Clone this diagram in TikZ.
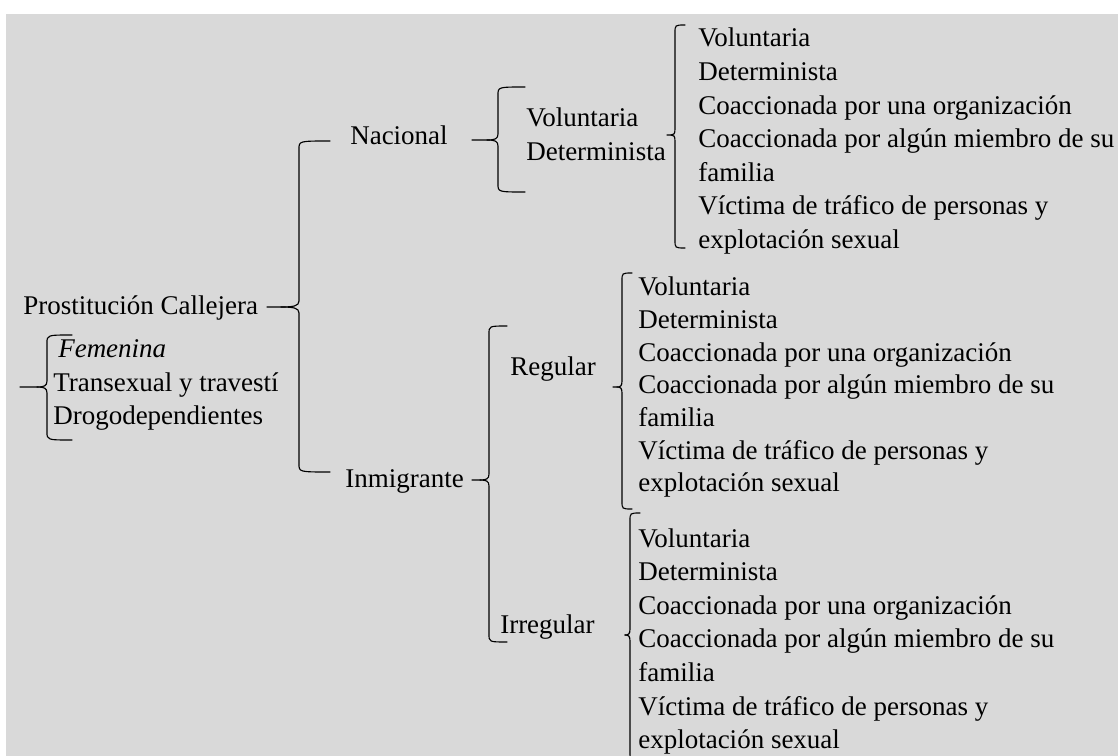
\documentclass[tikz,border=0pt]{standalone}
\usepackage{fontspec}
\setmainfont{Liberation Serif}
\definecolor{fondo}{RGB}{217,217,217}
\tikzset{
	texto/.style={anchor=base west, inner sep=0pt, font=\fontsize{20.25}{25}\selectfont},
	llave/.style={line width=0.85pt, line cap=round}
}
\newcommand\tipos{Voluntaria,Determinista,Coaccionada por una organización,Coaccionada por algún miembro de su,familia,Víctima de tráfico de personas y,explotación sexual}
% #1 dash start, #2 tip width, #3 vertical x, #4 top, #5 tip, #6 bottom, #7 tick end
\newcommand\corchete[7]{%
	\draw[llave] (#1,#5) -- (#3-#2,#5) .. controls (#3-#2*0.3,#5) and (#3,#5-1) .. (#3,#5-6) -- (#3,#4+8) .. controls (#3,#4) .. (#7,#4);
	\draw[llave] (#3-#2,#5) .. controls (#3-#2*0.3,#5) and (#3,#5+1) .. (#3,#5+6) -- (#3,#6-8) .. controls (#3,#6) .. (#7,#6);}

\begin{document}
\begin{tikzpicture}[x=0.75pt,y=-0.75pt]
	\useasboundingbox (0,0) rectangle (1118,756);
	\clip (0,0) rectangle (1118,756);
	\fill[fondo] (6,14) rectangle (1118,756);
	\node[texto] (pc) at (23,315) {Prostitución Callejera};
	\node[texto] (fem) at (58,357) {\itshape Femenina};
	\node[texto] (tra) at (53,391) {Transexual y travestí};
	\node[texto] (dro) at (53,424) {Drogodependientes};
	\node[texto] (nac) at (350,145) {Nacional};
	\node[texto] (inm) at (345,487) {Inmigrante};
	\node[texto] (vol) at (526,127) {Voluntaria};
	\node[texto] (det) at (526,161) {Determinista};
	\node[texto] (reg) at (510,375) {Regular};
	\node[texto] (irr) at (500,633) {Irregular};
	\foreach \lin [count=\i] in \tipos {
		\node[texto] (nac\i) at (698,47+33.6*\i-33.6) {\lin};
		\node[texto] (reg\i) at (638,296+32.6*\i-32.6) {\lin};
		\node[texto] (irr\i) at (638,547+33.6*\i-33.6) {\lin};
	}
	\corchete{267}{18}{299}{141}{307}{472}{330}
	\corchete{20}{10}{47}{335}{387}{440}{72}
	\corchete{472}{11}{498}{87}{140}{192}{525}
	\corchete{667}{4}{675}{25}{135}{248}{685}
	\corchete{472}{9}{489}{326}{480}{642}{507}
	\corchete{613}{5}{622}{273}{387}{509}{632}
	\corchete{625}{5}{630}{513}{635}{760}{640}
\end{tikzpicture}
\end{document}
